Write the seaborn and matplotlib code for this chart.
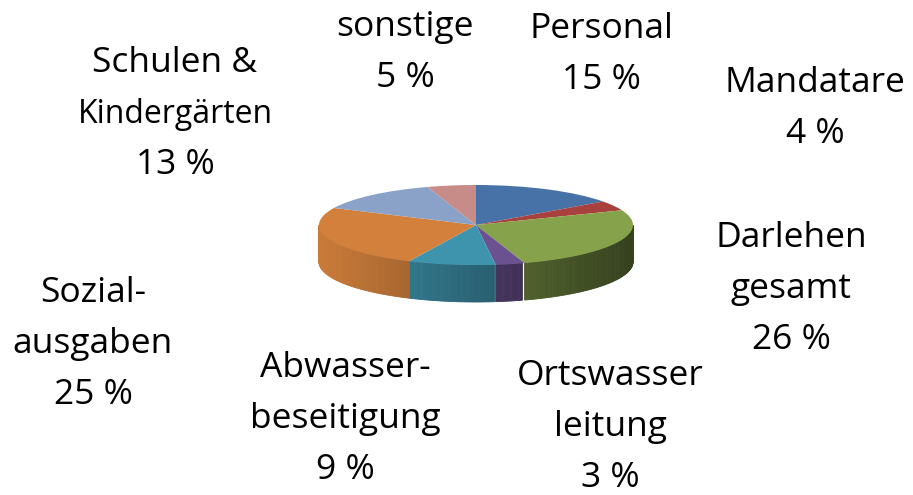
import numpy as np
import seaborn as sns
import matplotlib.pyplot as plt
from matplotlib.colors import to_rgb

# data
kategorien = ["Personal", "Mandatare", "Darlehen\ngesamt", "Ortswasser\nleitung",
              "Abwasser-\nbeseitigung", "Sozial-\nausgaben", "Schulen &\nKindergärten", "sonstige"]
anteile = [15, 4, 26, 3, 9, 25, 13, 5]
farben = ["#4672a8", "#a8413e", "#86a24b", "#6b5190", "#3e93ad", "#d2803b", "#8ba2c8", "#c78b88"]

# label block positions (pixel coords: center x, baseline of first line)
label_pos = [(601, 38), (815, 92), (791, 247), (610, 385), (345, 377), (93, 302), (175, 72), (405, 36)]

sns.set_theme(style="white")
plt.rcParams['font.family'] = ['Open Sans', 'DejaVu Sans']

W, H = 913, 495
fig = plt.figure(figsize=(W / 100, H / 100), dpi=100)
ax = fig.add_axes([0, 0, 1, 1])
ax.set_xlim(0, W)
ax.set_ylim(H, 0)
ax.axis('off')

# ellipse geometry of the pie
cx, cy, rx, ry, dicke = 476, 225, 157, 40, 37

# side of the 3D pie (front half only), shaded darker towards the right
grenzen = 90 - np.cumsum([0] + anteile) * 3.6
for i, farbe in enumerate(farben):
    a0, a1 = grenzen[i + 1], grenzen[i]
    ts = np.arange(a0, a1 + 0.01, 1.0)
    for t0, t1 in zip(ts[:-1], ts[1:]):
        tm = np.deg2rad((t0 + t1) / 2)
        if np.sin(tm) > 0:
            continue
        tt = np.deg2rad(np.array([t0, t1]))
        xs = cx + rx * np.cos(tt)
        ys = cy - ry * np.sin(tt)
        f = 0.68 - 0.28 * np.cos(tm)
        c = np.clip(np.array(to_rgb(farbe)) * f, 0, 1)
        ax.fill(np.r_[xs, xs[::-1]], np.r_[ys, ys[::-1] + dicke], color=c, lw=0.6, ec=c)

# top face
pax = fig.add_axes([(cx - rx) / W, 1 - (cy + ry) / H, 2 * rx / W, 2 * ry / H])
pax.pie(anteile, colors=farben, startangle=90, counterclock=False, radius=1,
        wedgeprops=dict(linewidth=0))
pax.set_aspect('auto')
pax.set_xlim(-1, 1)
pax.set_ylim(-1, 1)
pax.axis('off')

# labels
for name, wert, (x, y) in zip(kategorien, anteile, label_pos):
    zeilen = name.split("\n") + [f"{wert} %"]
    for k, z in enumerate(zeilen):
        groesse = 23 if z == "Kindergärten" else 25.5
        ax.text(x, y + k * 51, z, ha='center', va='baseline', fontsize=groesse, color='black')

fig.savefig('out.png', dpi=100)
